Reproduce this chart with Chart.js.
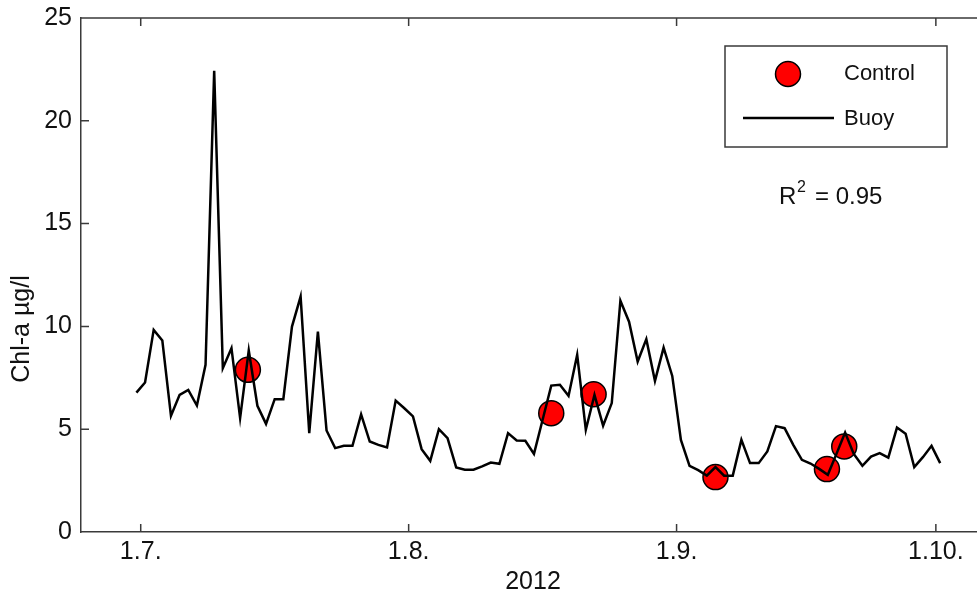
<!DOCTYPE html>
<html>
<head>
<meta charset="utf-8">
<script src="https://cdn.jsdelivr.net/npm/chart.js@4"></script>
<style>
  body { margin: 0; background: #fff; }
  canvas { display: block; }
</style>
</head>
<body>
<canvas id="chart" width="977" height="598"></canvas>
<script>
// days counted from 1 July 2012
const tickDays = [0, 31, 62, 92];
const tickLabels = ['1.7.', '1.8.', '1.9.', '1.10.'];
const yTicks = [0, 5, 10, 15, 20, 25];

// daily buoy readings, first one half a day before 1.7.
const buoyStartDay = -0.5;
const buoyValues = [
  6.78, 7.27, 9.83, 9.31, 5.65, 6.67, 6.91, 6.15, 8.13, 22.43,
  7.97, 8.94, 5.54, 8.83, 6.14, 5.26, 6.46, 6.46, 9.99, 11.45,
  4.81, 9.75, 4.94, 4.08, 4.19, 4.19, 5.72, 4.40, 4.24, 4.11,
  6.39, 6.02, 5.62, 4.03, 3.46, 5.00, 4.57, 3.14, 3.03, 3.03,
  3.19, 3.38, 3.32, 4.81, 4.45, 4.44, 3.80, 5.46, 7.12, 7.16,
  6.62, 8.62, 4.97, 6.67, 5.17, 6.27, 11.25, 10.23, 8.29, 9.38,
  7.35, 8.97, 7.59, 4.48, 3.22, 3.01, 2.74, 3.16, 2.74, 2.74,
  4.48, 3.35, 3.35, 3.92, 5.15, 5.05, 4.24, 3.51, 3.33, 3.07,
  2.78, 3.80, 4.84, 3.80, 3.22, 3.67, 3.84, 3.62, 5.08, 4.78,
  3.16, 3.64, 4.19, 3.35
];

// control samples
const controlDays = [12.4, 47.5, 52.4, 66.5, 79.4, 81.4];
const controlValues = [7.89, 5.78, 6.70, 2.67, 3.06, 4.16];

const rSquared = '0.95';

const FONT = "'Liberation Sans', Arial, sans-serif";
const AXIS = '#3a3a3a';

const buoyData = buoyValues.map((v, i) => ({ x: buoyStartDay + i, y: v }));
const controlData = controlDays.map((d, i) => ({ x: d, y: controlValues[i] }));

const frame = {
  id: 'frame',
  afterDraw(chart) {
    const c = chart.ctx;
    const a = chart.chartArea;
    const xs = chart.scales.x, ys = chart.scales.y;
    c.save();
    c.strokeStyle = AXIS;
    c.lineWidth = 1.5;
    c.beginPath();
    c.moveTo(a.left, a.top);
    c.lineTo(a.right, a.top);
    yTicks.slice(1, -1).forEach(v => {
      const y = ys.getPixelForValue(v);
      c.moveTo(a.left, y);
      c.lineTo(a.left + 8, y);
    });
    tickDays.forEach(d => {
      const x = xs.getPixelForValue(d);
      c.moveTo(x, a.bottom);
      c.lineTo(x, a.bottom - 8);
      c.moveTo(x, a.top);
      c.lineTo(x, a.top + 8);
    });
    c.stroke();

    // axis titles
    c.fillStyle = '#111';
    c.font = '25px ' + FONT;
    c.textAlign = 'center';
    c.textBaseline = 'middle';
    c.fillText('2012', 533, 582);
    c.save();
    c.translate(22, 329);
    c.rotate(-Math.PI / 2);
    c.fillText('Chl-a µg/l', 0, 0);
    c.restore();

    // legend
    c.strokeStyle = AXIS;
    c.lineWidth = 1.5;
    c.strokeRect(725, 46, 222, 101);
    c.beginPath();
    c.arc(788, 74, 12.5, 0, Math.PI * 2);
    c.fillStyle = '#ff0000';
    c.fill();
    c.strokeStyle = '#000';
    c.lineWidth = 1.5;
    c.stroke();
    c.beginPath();
    c.moveTo(743, 118);
    c.lineTo(834, 118);
    c.lineWidth = 2.5;
    c.stroke();
    c.fillStyle = '#111';
    c.font = '22px ' + FONT;
    c.textAlign = 'left';
    c.fillText('Control', 844, 74);
    c.fillText('Buoy', 844, 119);

    // R squared
    c.font = '24px ' + FONT;
    c.textBaseline = 'alphabetic';
    c.fillText('R', 779, 204);
    c.font = '16px ' + FONT;
    c.fillText('2', 797, 192);
    c.font = '24px ' + FONT;
    c.fillText('= ' + rSquared, 815, 204);
    c.restore();
  }
};

new Chart(document.getElementById('chart'), {
  type: 'line',
  data: {
    datasets: [
      {
        label: 'Buoy',
        data: buoyData,
        borderColor: '#000',
        borderWidth: 2.5,
        pointRadius: 0,
        tension: 0,
        order: 0
      },
      {
        label: 'Control',
        data: controlData,
        showLine: false,
        pointRadius: 12.5,
        pointBackgroundColor: '#ff0000',
        pointBorderColor: '#000',
        pointBorderWidth: 1.5,
        order: 1
      }
    ]
  },
  options: {
    responsive: false,
    animation: false,
    layout: { autoPadding: false, padding: { top: 18, left: 0, right: 0, bottom: 0 } },
    plugins: { legend: { display: false }, tooltip: { enabled: false } },
    scales: {
      x: {
        type: 'linear',
        min: -6.91,
        max: 96.76,
        afterBuildTicks: s => { s.ticks = tickDays.map(v => ({ value: v })); },
        afterFit: s => { s.height = 66; s.paddingLeft = 0; s.paddingRight = 0; },
        ticks: {
          callback: v => tickLabels[tickDays.indexOf(v)],
          font: { family: FONT, size: 25 },
          color: '#111',
          padding: 5,
          maxRotation: 0,
          autoSkip: false
        },
        grid: { display: false, drawTicks: false },
        border: { color: AXIS, width: 1.5 }
      },
      y: {
        min: 0,
        max: 25,
        afterBuildTicks: s => { s.ticks = yTicks.map(v => ({ value: v })); },
        afterFit: s => { s.width = 81; s.paddingTop = 0; s.paddingBottom = 0; },
        ticks: {
          font: { family: FONT, size: 25 },
          color: '#111',
          padding: 9
        },
        grid: { display: false, drawTicks: false },
        border: { color: AXIS, width: 1.5 }
      }
    }
  },
  plugins: [frame]
});
</script>
</body>
</html>
